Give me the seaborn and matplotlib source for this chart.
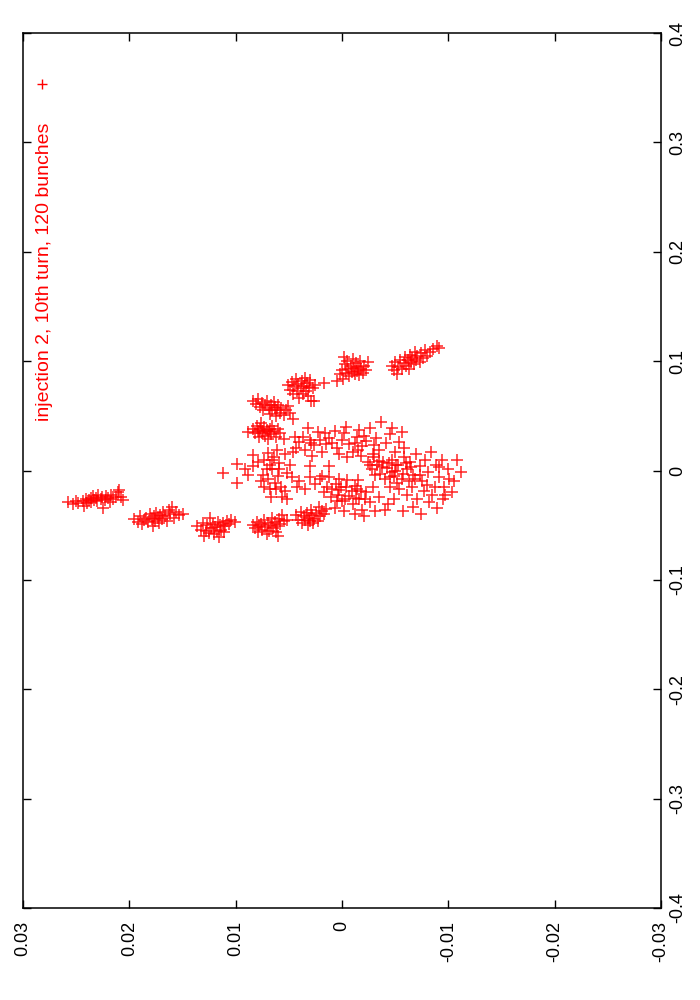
import matplotlib
matplotlib.use("Agg")
import matplotlib.pyplot as plt
import seaborn as sns
import pandas as pd

# ---------------- data (y = horizontal axis, x = vertical axis) ----------------
cluster_a = [(0.0258,-0.029),(0.0253,-0.031),(0.0250,-0.028),(0.0248,-0.030),(0.0244,-0.028),(0.0243,-0.032),
             (0.0241,-0.026),(0.0240,-0.030),(0.0238,-0.027),(0.0236,-0.025),(0.0236,-0.029),(0.0234,-0.023),
             (0.0233,-0.027),(0.0231,-0.025),(0.0230,-0.028),(0.0229,-0.022),(0.0227,-0.026),(0.0226,-0.024),
             (0.0225,-0.034),(0.0223,-0.027),(0.0222,-0.023),(0.0220,-0.025),(0.0218,-0.029),(0.0217,-0.022),
             (0.0215,-0.026),(0.0213,-0.024),(0.0211,-0.020),(0.0210,-0.018),(0.0208,-0.024),(0.0206,-0.027)]
cluster_b = [(0.0196,-0.044),(0.0192,-0.047),(0.0190,-0.042),(0.0188,-0.049),(0.0186,-0.045),(0.0184,-0.043),
             (0.0182,-0.047),(0.0181,-0.040),(0.0179,-0.044),(0.0178,-0.051),(0.0177,-0.042),(0.0176,-0.046),
             (0.0175,-0.039),(0.0173,-0.043),(0.0172,-0.048),(0.0171,-0.041),(0.0169,-0.044),(0.0168,-0.038),
             (0.0166,-0.042),(0.0165,-0.046),(0.0163,-0.036),(0.0162,-0.040),(0.0160,-0.033),(0.0158,-0.043),
             (0.0156,-0.038),(0.0153,-0.041),(0.0150,-0.040)]
cluster_c = [(0.0136,-0.051),(0.0133,-0.054),(0.0131,-0.048),(0.0130,-0.060),(0.0128,-0.055),(0.0127,-0.050),
             (0.0125,-0.057),(0.0124,-0.043),(0.0123,-0.053),(0.0121,-0.049),(0.0120,-0.058),(0.0119,-0.052),
             (0.0118,-0.055),(0.0117,-0.047),(0.0116,-0.061),(0.0115,-0.050),(0.0114,-0.054),(0.0112,-0.048),
             (0.0111,-0.056),(0.0110,-0.051),(0.0108,-0.046),(0.0106,-0.049),(0.0104,-0.045),(0.0101,-0.047)]
cluster_d = [(0.0084,-0.050),(0.0082,-0.053),(0.0080,-0.047),(0.0079,-0.056),(0.0078,-0.051),(0.0076,-0.049),
             (0.0075,-0.054),(0.0073,-0.045),(0.0072,-0.052),(0.0071,-0.058),(0.0070,-0.048),(0.0069,-0.055),
             (0.0067,-0.050),(0.0066,-0.043),(0.0065,-0.053),(0.0063,-0.047),(0.0062,-0.056),(0.0061,-0.051),
             (0.0059,-0.044),(0.0058,-0.049),(0.0056,-0.041),(0.0055,-0.046),(0.0052,-0.045),(0.0060,-0.060)]
cluster_e = [(0.0043,-0.041),(0.0041,-0.045),(0.0039,-0.038),(0.0038,-0.048),(0.0036,-0.042),(0.0035,-0.045),
             (0.0033,-0.039),(0.0032,-0.050),(0.0031,-0.043),(0.0030,-0.046),(0.0029,-0.036),(0.0028,-0.041),
             (0.0027,-0.048),(0.0026,-0.044),(0.0024,-0.039),(0.0023,-0.046),(0.0022,-0.033),(0.0021,-0.042),
             (0.0019,-0.037),(0.0017,-0.040),(0.0015,-0.035)]
cluster_f = [(0.0088,0.035),(0.0084,0.038),(0.0082,0.034),(0.0080,0.041),(0.0079,0.036),(0.0078,0.031),
             (0.0077,0.038),(0.0076,0.043),(0.0075,0.034),(0.0074,0.036),(0.0073,0.040),(0.0072,0.032),
             (0.0071,0.037),(0.0070,0.029),(0.0069,0.035),(0.0068,0.038),(0.0067,0.033),(0.0066,0.041),
             (0.0064,0.036),(0.0062,0.031),(0.0060,0.038),(0.0058,0.034),(0.0055,0.029)]
cluster_g = [(0.0084,0.064),(0.0081,0.061),(0.0079,0.065),(0.0077,0.058),(0.0075,0.062),(0.0074,0.055),
             (0.0072,0.060),(0.0071,0.064),(0.0069,0.057),(0.0068,0.052),(0.0067,0.060),(0.0066,0.055),
             (0.0064,0.063),(0.0063,0.058),(0.0062,0.050),(0.0061,0.055),(0.0060,0.060),(0.0058,0.053),
             (0.0057,0.057),(0.0055,0.051),(0.0053,0.055),(0.0051,0.059),(0.0049,0.053),(0.0046,0.047)]
cluster_h = [(0.0051,0.078),(0.0049,0.074),(0.0047,0.081),(0.0046,0.070),(0.0045,0.077),(0.0043,0.084),
             (0.0042,0.073),(0.0041,0.079),(0.0040,0.066),(0.0039,0.075),(0.0038,0.082),(0.0037,0.070),
             (0.0036,0.077),(0.0035,0.085),(0.0034,0.073),(0.0033,0.080),(0.0032,0.068),(0.0031,0.076),
             (0.0030,0.083),(0.0029,0.064),(0.0027,0.075),(0.0025,0.078),(0.0026,0.064),(0.0017,0.080),
             (0.0005,0.082)]
cluster_i = [(0.0002,0.088),(0.0000,0.092),(-0.0001,0.084),(-0.0002,0.104),(-0.0003,0.097),(-0.0004,0.089),
             (-0.0005,0.100),(-0.0006,0.093),(-0.0007,0.086),(-0.0008,0.096),(-0.0009,0.090),(-0.0010,0.102),
             (-0.0011,0.094),(-0.0012,0.088),(-0.0013,0.098),(-0.0014,0.091),(-0.0015,0.095),(-0.0016,0.087),
             (-0.0017,0.100),(-0.0018,0.093),(-0.0020,0.089),(-0.0021,0.096),(-0.0023,0.092),(-0.0024,0.099)]
cluster_j = [(-0.0047,0.096),(-0.0049,0.092),(-0.0050,0.099),(-0.0052,0.088),(-0.0053,0.095),(-0.0055,0.101),
             (-0.0056,0.093),(-0.0058,0.098),(-0.0059,0.104),(-0.0060,0.096),(-0.0062,0.101),(-0.0063,0.093),
             (-0.0064,0.106),(-0.0065,0.099),(-0.0066,0.103),(-0.0068,0.097),(-0.0069,0.108),(-0.0070,0.101),
             (-0.0071,0.105),(-0.0073,0.099),(-0.0074,0.107),(-0.0076,0.103),(-0.0078,0.110),(-0.0080,0.105),
             (-0.0083,0.108),(-0.0086,0.111),(-0.0089,0.114),(-0.0091,0.112)]
blob_left = [(0.0112,-0.002),(0.0099,0.006),(0.0099,-0.011),(0.0091,0.001),(0.0088,-0.004),(0.0084,0.014),
             (0.0084,0.004),(0.0079,0.008),
             (0.0073,0.010),(0.0070,0.016),(0.0068,0.005),(0.0074,-0.004),(0.0070,-0.008),(0.0066,0.001),
             (0.0073,-0.015),(0.0062,-0.017),(0.0067,-0.024),(0.0056,-0.024),(0.0057,-0.015),(0.0052,-0.002),
             (0.0060,-0.005),(0.0059,0.007),(0.0049,0.005),(0.0054,0.015),(0.0061,0.019),(0.0046,0.017),
             (0.0043,0.021),(0.0047,-0.006),(0.0042,-0.015),(0.0052,-0.026),(0.0064,0.012),(0.0076,-0.010),
             (0.0071,0.001),(0.0063,-0.011),(0.0068,-0.017),(0.0059,0.001),(0.0054,-0.019),(0.0066,0.010)]
blob_top = [(0.0040,0.026),(0.0035,0.019),(0.0030,0.028),(0.0026,0.023),(0.0023,0.035),(0.0019,0.017),
            (0.0015,0.024),(0.0012,0.030),(0.0007,0.036),(0.0005,0.021),(0.0000,0.028),(-0.0004,0.040),
            (-0.0007,0.024),(-0.0010,0.017),(-0.0014,0.031),(-0.0016,0.037),(-0.0019,0.022),(-0.0023,0.027),
            (-0.0026,0.039),(-0.0029,0.015),(-0.0032,0.030),(-0.0035,0.019),(-0.0037,0.044),(-0.0041,0.025),
            (-0.0045,0.033),(-0.0047,0.039),(-0.0050,0.017),(-0.0054,0.026),(-0.0056,0.035),(-0.0058,0.021),
            (0.0028,0.013),(0.0044,0.031),(0.0032,0.039),(0.0003,0.015),(-0.0018,0.013),(-0.0030,0.023),
            (0.0030,0.004),(0.0012,0.004),(0.0019,-0.005),
            (0.0037,0.031),(0.0029,0.025),(0.0021,0.028),(0.0016,0.034),(0.0009,0.025),(-0.0002,0.034),
            (-0.0012,0.025),(-0.0021,0.032),(-0.0005,0.012),(-0.0015,0.019)]
blob_right = [(-0.0024,0.008),(-0.0028,0.001),(-0.0030,0.012),(-0.0033,0.005),(-0.0036,-0.003),(-0.0039,0.008),
              (-0.0042,0.002),(-0.0045,-0.006),(-0.0047,0.010),(-0.0050,0.000),(-0.0053,0.005),(-0.0056,-0.008),
              (-0.0058,0.012),(-0.0061,0.001),(-0.0064,0.008),(-0.0067,-0.004),(-0.0070,0.015),(-0.0073,0.004),
              (-0.0075,-0.010),(-0.0078,0.010),(-0.0081,-0.001),(-0.0084,0.017),(-0.0087,-0.015),(-0.0088,0.005),
              (-0.0091,-0.006),(-0.0094,0.010),(-0.0097,-0.022),(-0.0100,0.001),(-0.0103,-0.020),(-0.0105,-0.010),
              (-0.0108,0.010),(-0.0112,-0.001),(-0.0089,-0.034),(-0.0082,-0.029),(-0.0095,-0.026),(-0.0077,-0.019),
              (-0.0071,-0.026),(-0.0066,-0.015),(-0.0061,-0.022),(-0.0054,-0.017),(-0.0049,-0.026),(-0.0045,-0.015),
              (-0.0040,-0.036),(-0.0035,-0.024),(-0.0043,-0.031),(-0.0057,-0.037),(-0.0067,-0.033),(-0.0074,-0.040),
              (-0.0052,-0.011),(-0.0063,-0.010),(-0.0073,-0.004),(-0.0080,-0.013),
              (-0.0026,0.005),(-0.0031,-0.004),(-0.0038,0.003),(-0.0044,0.007),(-0.0047,-0.001),(-0.0051,0.005),
              (-0.0057,-0.003),(-0.0060,0.007),(-0.0065,0.003),(-0.0069,-0.008),(-0.0040,-0.008),(-0.0049,-0.005),
              (-0.0035,0.009),(-0.0101,-0.008),(-0.0096,-0.015),(-0.0085,-0.022),(-0.0091,0.003)]
blob_bottom = [(0.0040,-0.010),(0.0035,-0.017),(0.0030,-0.006),(0.0025,-0.012),(0.0021,-0.008),(0.0017,-0.020),
               (0.0014,-0.015),(0.0010,-0.024),(0.0006,-0.012),(0.0003,-0.018),(0.0000,-0.028),(-0.0004,-0.015),
               (-0.0007,-0.023),(-0.0010,-0.031),(-0.0014,-0.017),(-0.0016,-0.026),(-0.0019,-0.036),(-0.0023,-0.020),
               (-0.0026,-0.029),(-0.0029,-0.015),(-0.0031,-0.037),(-0.0002,-0.037),(0.0007,-0.034),(-0.0012,-0.040),
               (-0.0021,-0.042),(0.0003,-0.008),(-0.0005,-0.009),(-0.0015,-0.009),(0.0012,-0.006),
               (0.0009,-0.017),(0.0004,-0.022),(0.0001,-0.015),(-0.0003,-0.026),(-0.0009,-0.019),(-0.0013,-0.025),
               (-0.0018,-0.019),(-0.0022,-0.026),(-0.0012,-0.014),(0.0005,-0.028)]

y_ticks = [0.03, 0.02, 0.01, 0.0, -0.01, -0.02, -0.03]
y_tick_labels = ["0.03", "0.02", "0.01", "0", "-0.01", "-0.02", "-0.03"]
x_ticks = [0.4, 0.3, 0.2, 0.1, 0.0, -0.1, -0.2, -0.3, -0.4]
x_tick_labels = ["0.4", "0.3", "0.2", "0.1", "0", "-0.1", "-0.2", "-0.3", "-0.4"]
series_label = "injection 2, 10th turn, 120 bunches"

# ---------------- build table ----------------
all_pts = (cluster_a + cluster_b + cluster_c + cluster_d + cluster_e + cluster_f + cluster_g +
           cluster_h + cluster_i + cluster_j + blob_left + blob_top + blob_right + blob_bottom)
df = pd.DataFrame(all_pts, columns=["y", "x"])

sns.set_theme(style="white")
plt.rcParams["font.family"] = ["Liberation Sans", "DejaVu Sans"]

fig = plt.figure(figsize=(7, 10), dpi=100)
ax = fig.add_axes([23/700, 1 - 908/1000, (661 - 23)/700, (908 - 33)/1000])

sns.scatterplot(data=df, x="y", y="x", marker="+", color="red", s=80,
                linewidth=1.1, alpha=0.85, ax=ax, legend=False)

ax.set_xlim(0.03, -0.03)
ax.set_ylim(-0.4, 0.4)
ax.set_xlabel("")
ax.set_ylabel("")

ax.set_xticks(y_ticks)
ax.set_xticklabels(y_tick_labels, rotation=90, fontsize=13)
ax.set_yticks(x_ticks)
ax.set_yticklabels(x_tick_labels, rotation=90, fontsize=13, va="center")

ax.tick_params(axis="x", which="both", direction="in", bottom=True, top=True,
               labelbottom=True, labeltop=False, length=6, width=1.0, pad=9, colors="black")
ax.tick_params(axis="y", which="both", direction="in", left=True, right=True,
               labelleft=False, labelright=True, length=6, width=1.0, pad=6, colors="black")
for sp in ax.spines.values():
    sp.set_visible(True)
    sp.set_color("black")
    sp.set_linewidth(1.1)

# rotated key (legend) in the upper-left corner
ax.text(0.034, 0.898, series_label, transform=ax.transAxes, rotation=90,
        ha="center", va="top", color="red", fontsize=14)
ax.plot([0.030], [0.942], transform=ax.transAxes, marker="+", color="red",
        markersize=7, markeredgewidth=1.0, linestyle="none")

fig.savefig("out.png", dpi=100, facecolor="white")
